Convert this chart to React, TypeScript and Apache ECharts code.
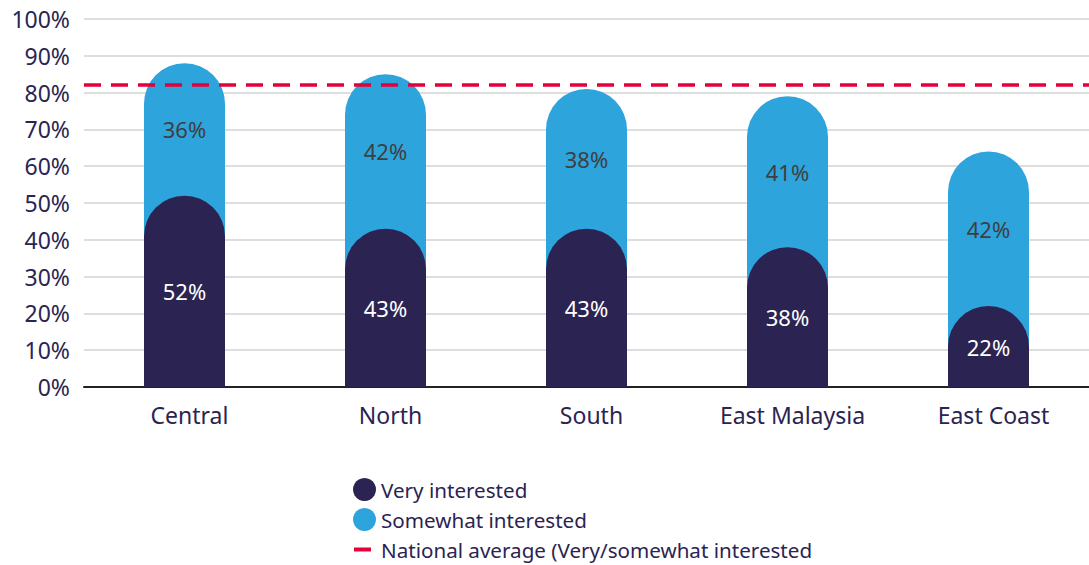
import React, { useEffect, useRef } from "react";
import * as echarts from "echarts";

const categories = ["Central", "North", "South", "East Malaysia", "East Coast"];
const veryInterested = [52, 43, 43, 38, 22];
const somewhatInterested = [36, 42, 38, 41, 42];
const nationalAverage = 82;
const yTicks = [0, 10, 20, 30, 40, 50, 60, 70, 80, 90, 100];

const DARK = "#2b2452";
const LIGHT = "#2ea4dc";
const RED = "#e4003b";
const FONT = "Noto Sans";

export default function App() {
  const ref = useRef<HTMLDivElement>(null);
  useEffect(() => {
    if (!ref.current) return;
    const chart = echarts.init(ref.current, null, { renderer: "svg" });
    const totals = veryInterested.map((v, i) => v + somewhatInterested[i]);
    const common = { barWidth: 81, barGap: "-100%" };
    chart.setOption({
      animation: false,
      textStyle: { fontFamily: FONT },
      grid: { left: 84, right: -7, top: 19, bottom: 178 },
      legend: {
        orient: "vertical",
        left: 353,
        top: 478,
        padding: 0,
        itemWidth: 23,
        itemHeight: 23,
        itemGap: 7,
        textStyle: { fontFamily: FONT, fontSize: 20.6, color: DARK },
        data: [
          { name: "Very interested", icon: "circle" },
          { name: "Somewhat interested", icon: "circle" },
          {
            name: "National average (Very/somewhat interested",
            icon: "path://M0,0 M23,23 M1,9.5 L18,9.5 L18,13.5 L1,13.5 Z",
            itemStyle: { color: RED },
          },
        ],
      },
      xAxis: {
        type: "category",
        data: categories,
        axisLine: { show: true, lineStyle: { color: "#222222", width: 2 } },
        axisTick: { show: false },
        axisLabel: {
          fontFamily: FONT,
          fontSize: 23,
          color: DARK,
          margin: 16,
          padding: [0, 0, 0, 10],
        },
      },
      yAxis: {
        type: "value",
        min: yTicks[0],
        max: yTicks[yTicks.length - 1],
        interval: 10,
        axisLine: { show: false },
        axisTick: { show: false },
        splitLine: { show: true, lineStyle: { color: "#dedede", width: 2 } },
        axisLabel: {
          fontFamily: FONT,
          fontSize: 23,
          color: DARK,
          margin: 14,
          formatter: (v: number) => v + "%",
        },
      },
      series: [
        {
          name: "Somewhat interested",
          type: "bar",
          ...common,
          data: totals,
          itemStyle: { color: LIGHT, borderRadius: [40.5, 40.5, 0, 0] },
          z: 2,
        },
        {
          name: "Very interested",
          type: "bar",
          ...common,
          data: veryInterested,
          itemStyle: { color: DARK, borderRadius: [40.5, 40.5, 0, 0] },
          label: {
            show: true,
            position: "inside",
            formatter: (p: any) => p.value + "%",
            color: "#ffffff",
            fontFamily: FONT,
            fontSize: 22,
          },
          z: 3,
        },
        {
          name: "_base",
          type: "bar",
          stack: "lbl",
          ...common,
          data: veryInterested,
          itemStyle: { color: "transparent" },
          silent: true,
          z: 4,
        },
        {
          name: "_lbl",
          type: "bar",
          stack: "lbl",
          ...common,
          data: somewhatInterested,
          itemStyle: { color: "transparent" },
          silent: true,
          label: {
            show: true,
            position: "inside",
            formatter: (p: any) => p.value + "%",
            color: "#3f3f3f",
            fontFamily: FONT,
            fontSize: 22,
          },
          z: 4,
        },
        {
          name: "National average (Very/somewhat interested",
          type: "line",
          data: [],
          itemStyle: { color: RED },
          lineStyle: { color: RED },
          markLine: {
            silent: true,
            symbol: ["none", "none"],
            label: { show: false },
            lineStyle: { color: RED, type: [17, 10], width: 3.5 },
            data: [{ yAxis: nationalAverage }],
          },
          z: 5,
        },
      ],
    });
    return () => chart.dispose();
  }, []);
  return (
    <div
      ref={ref}
      style={{ position: "fixed", left: 0, top: 0, width: 1089, height: 565, background: "#ffffff" }}
    />
  );
}
